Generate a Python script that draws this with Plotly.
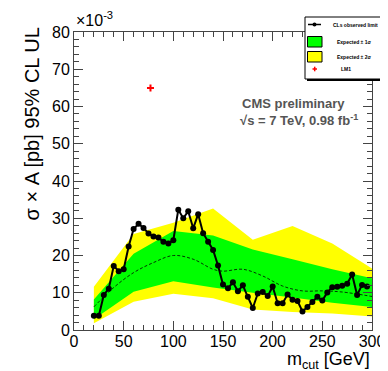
import plotly.graph_objects as go

# observed CLs limit (x1e-3 pb)
mcut_obs = [20, 25, 30, 35, 40, 45, 50, 55, 60, 65, 70, 75, 80, 85, 90, 95,
            100, 105, 110, 115, 120, 125, 130, 135, 140, 145, 150, 155, 160,
            165, 170, 175, 180, 185, 190, 195, 200, 205, 210, 215, 220, 225,
            230, 235, 240, 245, 250, 255, 260, 265, 270, 275, 280, 285, 290, 295]
obs_limit = [3.8, 3.8, 9.4, 11.1, 17.2, 15.8, 16.3, 22.4, 27.1, 28.5, 27.4, 25.9,
             25.1, 24.8, 23.7, 23.2, 24.1, 32.3, 30.0, 31.9, 27.3, 31.1, 26.0,
             23.7, 21.5, 17.3, 12.2, 11.2, 12.8, 10.4, 12.0, 8.9, 5.9, 9.8, 10.2,
             9.1, 11.7, 7.2, 7.2, 9.5, 8.1, 7.8, 5.0, 6.2, 7.5, 8.9, 7.9, 10.1,
             11.5, 11.6, 11.9, 12.4, 14.9, 9.4, 12.1, 11.7]

# expected bands
mcut_band = [20, 60, 100, 140, 180, 220, 260, 300]
exp_2s_hi = [11.6, 25.8, 28.8, 32.6, 24.2, 27.9, 23.2, 16.5]
exp_2s_lo = [1.8, 7.6, 9.7, 8.5, 5.5, 4.8, 4.4, 3.6]
exp_1s_hi = [8.2, 20.5, 26.6, 25.4, 21.6, 19.0, 16.3, 13.9]
exp_1s_lo = [2.9, 10.3, 13.1, 11.4, 10.0, 8.7, 7.3, 6.2]

# expected median
mcut_med = [20, 40, 60, 80, 100, 120, 140, 150, 170, 190, 210, 230, 250, 270, 300]
exp_med = [6.2, 11.4, 15.4, 18.1, 20.0, 19.0, 16.3, 15.8, 16.3, 14.5, 11.8,
           10.5, 10.5, 10.2, 9.0]

lm1_x = [77]
lm1_y = [65]

legend_labels = ["CLs observed limit", "Expected \u00b1 1\u03c3",
                 "Expected \u00b1 2\u03c3", "LM1"]

FONT = "Liberation Sans, Arial, sans-serif"
W, H = 388, 371
L, R, T, B = 66, 24, 24, 49


def px(x):
    # pixel -> paper x
    return (x - L) / (W - L - R)


def py(y):
    # pixel -> paper y
    return (H - B - y) / (H - T - B)


fig = go.Figure()

fig.add_trace(go.Scatter(
    x=mcut_band + mcut_band[::-1], y=exp_2s_hi + exp_2s_lo[::-1],
    fill="toself", fillcolor="#ffff00", mode="none", showlegend=False))
fig.add_trace(go.Scatter(
    x=mcut_band + mcut_band[::-1], y=exp_1s_hi + exp_1s_lo[::-1],
    fill="toself", fillcolor="#00ff00", mode="none", showlegend=False))
fig.add_trace(go.Scatter(
    x=mcut_med, y=exp_med, mode="lines",
    line=dict(color="black", width=0.8, dash="3px,2px", shape="spline"),
    showlegend=False))
fig.add_trace(go.Scatter(
    x=mcut_obs, y=obs_limit, mode="lines+markers",
    line=dict(color="black", width=2),
    marker=dict(color="black", size=6), showlegend=False))
fig.add_trace(go.Scatter(
    x=lm1_x, y=lm1_y, mode="markers",
    marker=dict(color="red", size=5, symbol="cross-thin",
                line=dict(color="red", width=2)),
    showlegend=False))

axis_common = dict(
    ticks="inside", mirror="allticks", showline=True, linecolor="#444",
    linewidth=1, tickcolor="#444", showgrid=False, zeroline=False,
    tickfont=dict(size=16, color="black", family=FONT),
)

fig.update_xaxes(range=[0, 300], tick0=0, dtick=50, ticklen=9,
                 ticklabelstandoff=-3,
                 minor=dict(ticks="inside", dtick=10, ticklen=5, tickcolor="#444"),
                 **axis_common)
fig.update_yaxes(range=[0, 80], tick0=0, dtick=10, ticklen=9,
                 minor=dict(ticks="inside", dtick=2, ticklen=5, tickcolor="#444"),
                 **axis_common)

# hand-drawn ROOT style legend box
shapes = [
    dict(type="rect", xref="paper", yref="paper", x0=px(299), x1=px(381),
         y0=py(73), y1=py(11), fillcolor="black", line=dict(width=0)),
    dict(type="rect", xref="paper", yref="paper", x0=px(297), x1=px(379),
         y0=py(71), y1=py(9), fillcolor="white", line=dict(color="black", width=1)),
    dict(type="line", xref="paper", yref="paper", x0=px(300), x1=px(313),
         y0=py(16.5), y1=py(16.5), line=dict(color="black", width=1.5)),
    dict(type="circle", xref="paper", yref="paper", x0=px(304.5), x1=px(308.5),
         y0=py(18.5), y1=py(14.5), fillcolor="black", line=dict(width=0)),
    dict(type="rect", xref="paper", yref="paper", x0=px(299.5), x1=px(314),
         y0=py(39), y1=py(28.5), fillcolor="#00ff00", line=dict(color="black", width=1)),
    dict(type="rect", xref="paper", yref="paper", x0=px(299.5), x1=px(314),
         y0=py(54), y1=py(43.5), fillcolor="#ffff00", line=dict(color="black", width=1)),
    dict(type="line", xref="paper", yref="paper", x0=px(304.5), x1=px(309),
         y0=py(61), y1=py(61), line=dict(color="red", width=1.5)),
    dict(type="line", xref="paper", yref="paper", x0=px(306.7), x1=px(306.7),
         y0=py(63.3), y1=py(58.7), line=dict(color="red", width=1.5)),
]

legend_pos = [(347, 16.5), (346, 33.7), (346, 48.7), (338.3, 61)]
annotations = [
    dict(text="<b>%s</b>" % lab, xref="paper", yref="paper", x=px(xx), y=py(yy),
         xanchor="center", yanchor="middle", showarrow=False,
         font=dict(size=5, color="black"))
    for lab, (xx, yy) in zip(legend_labels, legend_pos)
]

annotations += [
    dict(text="\u00d710<sup>-3</sup>", xref="paper", yref="paper",
         x=0, y=py(11), xanchor="left", yanchor="middle", showarrow=False,
         font=dict(size=16)),
    dict(text="\u03c3 \u00d7 A [pb] 95% CL UL", xref="paper", yref="paper",
         x=px(24), y=py(18), xanchor="center", yanchor="top", textangle=-90,
         showarrow=False, font=dict(size=20)),
    dict(text="m<sub>cut</sub> [GeV]", xref="paper", yref="paper",
         x=px(364), y=py(352), xanchor="right", yanchor="middle", showarrow=False,
         font=dict(size=18)),
    dict(text="<b>CMS preliminary</b>", xref="paper", yref="paper",
         x=px(232), y=py(95), xanchor="left", yanchor="middle", showarrow=False,
         font=dict(size=13, color="#555")),
    dict(text="<b>\u221as = 7 TeV, 0.98 fb<sup>-1</sup></b>", xref="paper",
         yref="paper", x=px(230), y=py(112), xanchor="left", yanchor="middle",
         showarrow=False, font=dict(size=13, color="#555")),
]

fig.update_layout(
    width=W, height=H,
    margin=dict(l=L, r=R, t=T, b=B, autoexpand=False),
    plot_bgcolor="white", paper_bgcolor="white",
    font=dict(family=FONT, color="black"),
    showlegend=False,
    shapes=shapes,
    annotations=annotations,
)

fig.write_html("out.html")
